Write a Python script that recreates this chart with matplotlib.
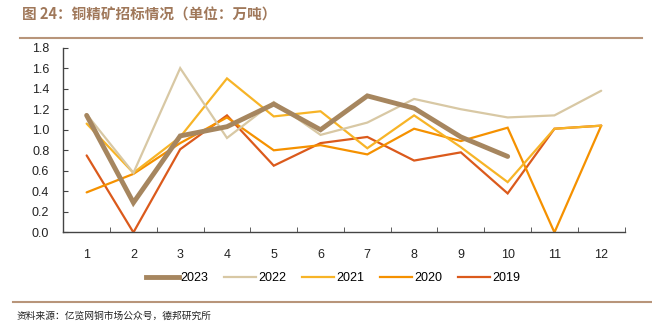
import matplotlib.pyplot as plt
from matplotlib.lines import Line2D

plt.rcParams['font.family'] = ['Liberation Sans', 'Noto Sans CJK SC', 'DejaVu Sans']

# 铜精矿招标量（万吨），按月
months = list(range(1, 13))
v2023 = [1.14, 0.29, 0.94, 1.03, 1.25, 1.00, 1.33, 1.21, 0.93, 0.74]
v2022 = [1.15, 0.58, 1.60, 0.92, 1.27, 0.95, 1.07, 1.30, 1.20, 1.12, 1.14, 1.38]
v2021 = [1.06, 0.58, 0.93, 1.50, 1.13, 1.18, 0.82, 1.14, 0.83, 0.49, 1.01, 1.04]
v2020 = [0.39, 0.57, 0.87, 1.12, 0.80, 0.85, 0.76, 1.01, 0.89, 1.02, 0.00, 1.04]
v2019 = [0.75, 0.00, 0.81, 1.14, 0.65, 0.87, 0.93, 0.70, 0.78, 0.38, 1.01, 1.04]
years = ['2023', '2022', '2021', '2020', '2019']
yticks = [0.0, 0.2, 0.4, 0.6, 0.8, 1.0, 1.2, 1.4, 1.6, 1.8]

fig = plt.figure(figsize=(6.52, 3.33), dpi=100)
ax = fig.add_axes([0.097, 0.302, 0.861, 0.555])

series = [v2023, v2022, v2021, v2020, v2019]
colors = ['#A6865F', '#D8C8A4', '#F7B427', '#F59100', '#DB5A1C']
widths = [3.5, 1.6, 1.6, 1.6, 1.6]
order = [1, 2, 3, 4, 5]
for vals, c, w, z in zip(series[::-1], colors[::-1], widths[::-1], order):
    ax.plot(months[:len(vals)], vals, color=c, lw=w, zorder=z,
            solid_capstyle='round', solid_joinstyle='miter')

ax.set_xlim(0.5, 12.5)
ax.set_ylim(0, 1.8)
ax.set_yticks(yticks)
ax.set_yticklabels([f'{t:.1f}' for t in yticks])
ax.set_xticks(months)
ax.set_xticklabels([str(m) for m in months])
ax.set_xticks([m + 0.5 for m in range(0, 13)], minor=True)
ax.tick_params(axis='x', which='major', length=0, pad=12, labelsize=9, labelcolor='#222222')
ax.tick_params(axis='x', which='minor', direction='in', length=3.5, color='#444444')
ax.tick_params(axis='y', direction='in', length=3.5, color='#444444', labelsize=9,
               labelcolor='#222222', pad=10)
for s in ['top', 'right']:
    ax.spines[s].set_visible(False)
for s in ['left', 'bottom']:
    ax.spines[s].set_color('#444444')
    ax.spines[s].set_linewidth(1.0)

handles = [Line2D([], [], color=c, lw=w) for c, w in zip(colors, widths)]
fig.legend(handles, years, loc='center', bbox_to_anchor=(0.511, 0.165), ncol=5,
           frameon=False, fontsize=9, handlelength=2.6, handletextpad=0.15,
           columnspacing=1.25)

brown = '#A0785A'
fig.text(0.034, 0.955, '图 24：铜精矿招标情况（单位：万吨）', color=brown, fontsize=10.5,
         fontweight='bold', va='center', ha='left',
         family=['Noto Sans CJK SC', 'DejaVu Sans'])
fig.add_artist(Line2D([0.03, 0.985], [1 - 38 / 333, 1 - 38 / 333], color='#B8957A', lw=1.5))
fig.add_artist(Line2D([0.02, 1.0], [1 - 302 / 333, 1 - 302 / 333], color='#B8957A', lw=1.5))
fig.text(0.026, 1 - 316 / 333, '资料来源：亿览网铜市场公众号，德邦研究所', color='#222222',
         fontsize=7.0, va='center', ha='left', family=['Noto Sans CJK SC', 'DejaVu Sans'])

fig.savefig('out.png', dpi=100)
